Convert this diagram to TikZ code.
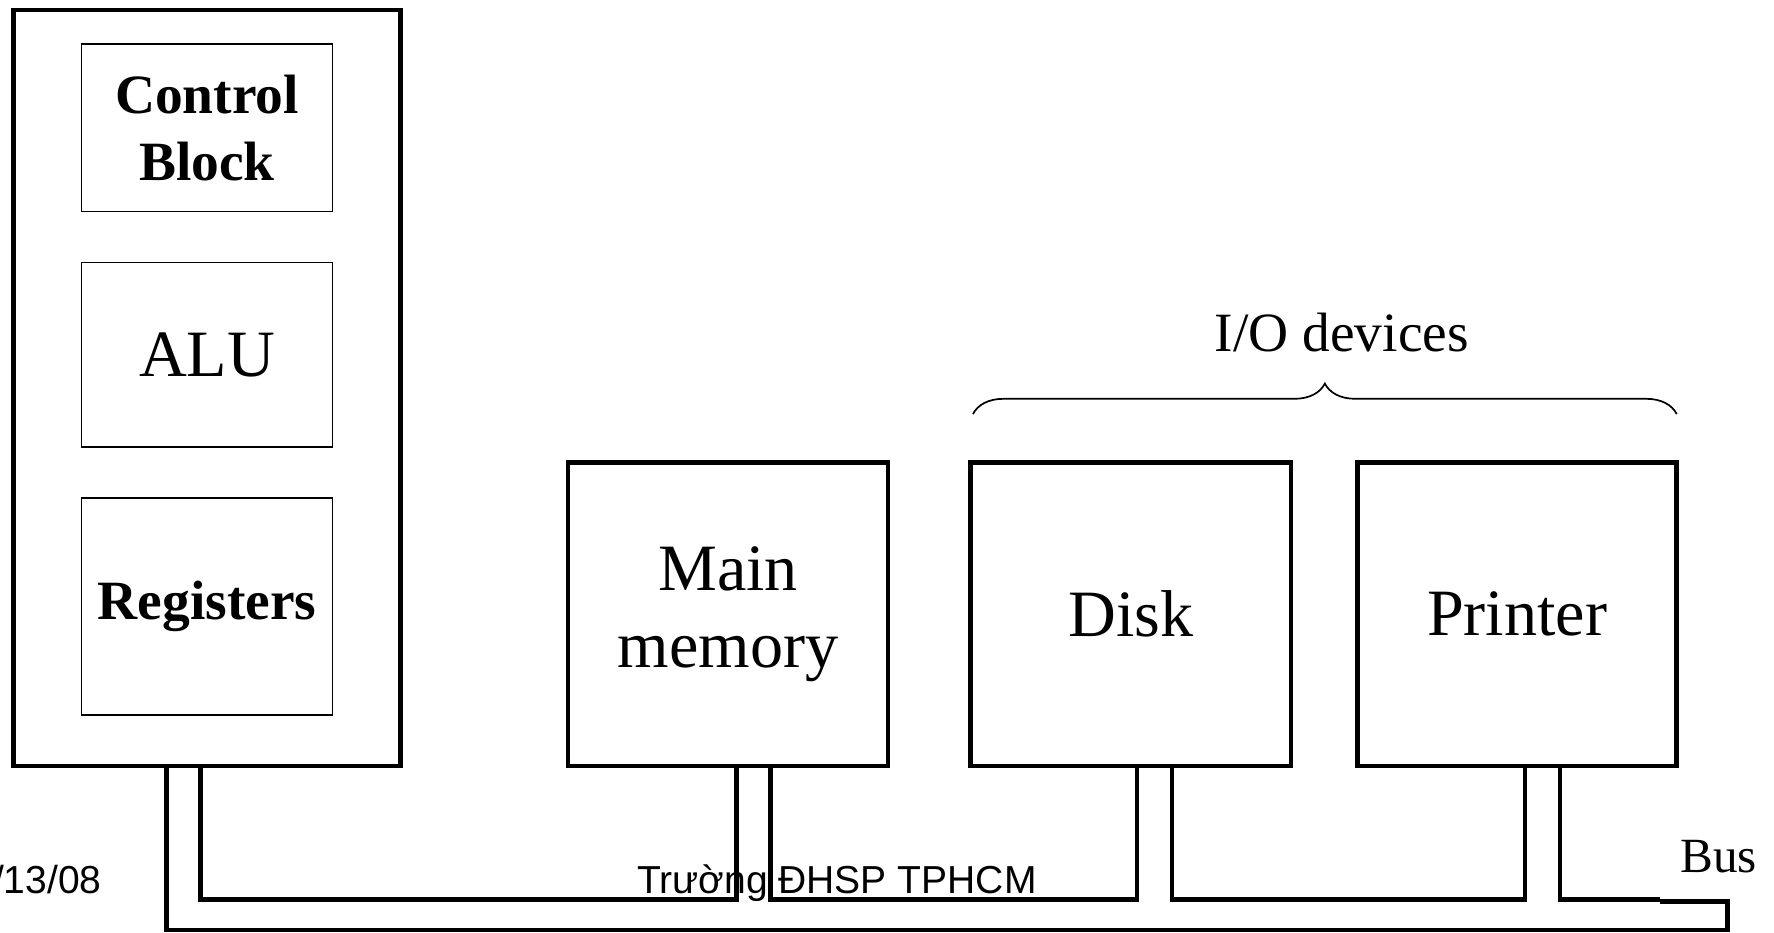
\documentclass[tikz,border=0pt]{standalone}
\usepackage{fontspec}
\setmainfont{Liberation Serif}
\newfontfamily\arialf{Liberation Sans}
\usetikzlibrary{decorations.pathreplacing}
\begin{document}
\begin{tikzpicture}[x=1pt,y=-1pt,
  thickbox/.style={draw,line width=4pt,inner sep=0pt,outer sep=0pt,align=center},
  thinbox/.style={draw,line width=1.5pt,inner sep=0pt,outer sep=0pt,align=center},
  bigtxt/.style={font=\fontsize{58.5}{68}\selectfont},
  boldtxt/.style={font=\fontsize{49}{59}\selectfont\bfseries},
  bus/.style={line width=4pt,line join=miter},
  foot/.style={font=\arialf\fontsize{34.5}{40}\selectfont,inner sep=0pt}]
\useasboundingbox (0,0) rectangle (1568,824);
% CPU
\node[thickbox,minimum width=342pt,minimum height=668pt] (cpu) at (183,343) {};
\node[thinbox,boldtxt,minimum width=222pt,minimum height=148pt] (ctrl) at (183,113) {Control\\Block};
\node[thinbox,bigtxt,minimum width=222pt,minimum height=163pt] (alu) at (183,313.5) {ALU};
\node[thinbox,boldtxt,minimum width=222pt,minimum height=192pt] (reg) at (183,536) {Registers};
% memory and devices
\node[thickbox,bigtxt,minimum width=283pt,minimum height=268pt] (mem) at (643.5,543) {Main\\memory};
\node[thickbox,bigtxt,minimum width=283pt,minimum height=268pt] (disk) at (999.5,543) {Disk};
\node[thickbox,bigtxt,minimum width=282pt,minimum height=268pt] (prn) at (1341,543) {Printer};
% brace and label
\coordinate (br1) at (860,366);
\coordinate (br2) at (1482,366);
\draw[line width=1.5pt,decorate,decoration={brace,amplitude=27pt}] (br1) -- (br2);
\node[font=\fontsize{49}{56}\selectfont] (io) at (1186,293.5) {I/O devices};
% bus attachment points
\coordinate (c1) at ([xshift=135pt]cpu.south west);
\coordinate (c2) at ([xshift=165pt]cpu.south west);
\coordinate (m1) at ([xshift=149pt]mem.south west);
\coordinate (m2) at ([xshift=179pt]mem.south west);
\coordinate (d1) at ([xshift=147pt]disk.south west);
\coordinate (d2) at ([xshift=178pt]disk.south west);
\coordinate (p1) at ([xshift=148pt]prn.south west);
\coordinate (p2) at ([xshift=179pt]prn.south west);
\coordinate (be) at (1467,795);
\coordinate (bo) at (1527,822);
% footer text
\node[foot,anchor=base west] (school) at (563,790) {Trường ĐHSP TPHCM};
\node[foot,anchor=base east] (date) at (90,790) {/13/08};
% bus
\draw[bus] (c1) -- (c1 |- bo) -- (bo) -- (bo |- 0,797) -- (be |- 0,797);
\draw[bus] (c2) -- (c2 |- be) -- (m1 |- be) -- (m1);
\draw[bus] (m2) -- (m2 |- be) -- (d1 |- be) -- (d1);
\draw[bus] (d2) -- (d2 |- be) -- (p1 |- be) -- (p1);
\draw[bus] (p2) -- (p2 |- be) -- (be);
\node[font=\fontsize{43.5}{50}\selectfont,inner sep=0pt] (bus) at (1519,757) {Bus};
\end{tikzpicture}
\end{document}
